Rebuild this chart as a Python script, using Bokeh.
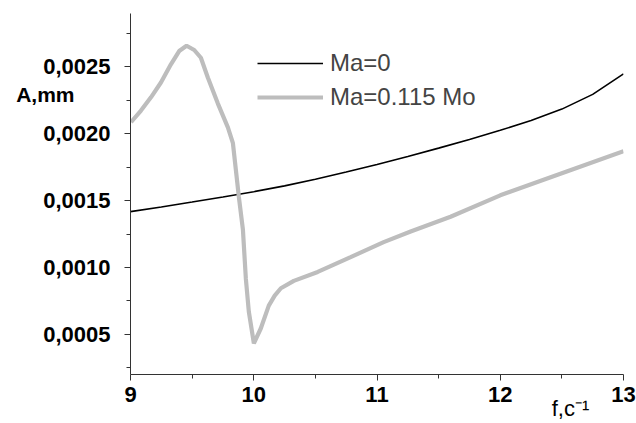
from bokeh.plotting import figure
from bokeh.models import Range1d, FixedTicker, CustomJSTickFormatter, Legend, LegendItem, LinearAxis
from bokeh.embed import file_html
from bokeh.resources import INLINE

# Data
f_black = [9.0, 9.25, 9.5, 9.75, 10.0, 10.25, 10.5, 10.75, 11.0, 11.25, 11.5, 11.75,
           12.0, 12.25, 12.5, 12.75, 13.0]
a_black = [0.001418, 0.001453, 0.00149, 0.001528, 0.001567, 0.001611, 0.00166, 0.001714,
           0.00177, 0.00183, 0.001893, 0.001958, 0.002026, 0.0021, 0.002185, 0.002295, 0.002448]

f_gray = [9.004, 9.085, 9.166, 9.247, 9.328, 9.395, 9.455, 9.517, 9.571, 9.628, 9.709, 9.790,
          9.831, 9.855, 9.879, 9.912, 9.936, 9.960, 10.001, 10.057, 10.122, 10.17, 10.22, 10.325,
          10.519, 10.786, 11.054, 11.273, 11.597, 12.0, 12.545, 13.0]
a_gray = [0.002087, 0.002174, 0.002273, 0.002384, 0.00252, 0.002619, 0.002659, 0.002627, 0.002569,
          0.002419, 0.002226, 0.002048, 0.00193, 0.00173, 0.00153, 0.001285, 0.000915, 0.00067,
          0.000433, 0.000544, 0.000715, 0.00079, 0.000845, 0.0009, 0.000967, 0.001078, 0.00119,
          0.00127, 0.00138, 0.00154, 0.00172, 0.00187]

x_ticks = [9, 10, 11, 12, 13]
x_minor = [9.5, 10.5, 11.5, 12.5]
y_ticks = [0.0005, 0.0010, 0.0015, 0.0020, 0.0025]
y_minor = [0.00025, 0.00075, 0.00125, 0.00175, 0.00225, 0.00275]
series_labels = ["Ma=0", "Ma=0.115 Mo"]
y_title = "A,mm"
x_title = "f,c\u207b\u00b9"

FONT = "Liberation Sans"

p = figure(width=636, height=423, output_backend="svg", toolbar_location=None,
           x_range=Range1d(9, 13), y_range=Range1d(0.0002, 0.0029),
           min_border_left=130, min_border_right=13, min_border_top=13, min_border_bottom=47)
p.outline_line_color = None
p.xgrid.visible = False
p.ygrid.visible = False
p.background_fill_color = "white"
p.border_fill_color = "white"

r1 = p.line(f_black, a_black, line_color="black", line_width=1.6)
r2 = p.line(f_gray, a_gray, line_color="#bdbdbd", line_width=4.2)

for ax in (p.xaxis[0], p.yaxis[0]):
    ax.axis_line_color = "#333333"
    ax.major_tick_line_color = "#333333"
    ax.minor_tick_line_color = "#333333"
    ax.major_tick_in = 0
    ax.major_tick_out = 6
    ax.minor_tick_in = 0
    ax.minor_tick_out = 4
    ax.major_label_text_font = FONT
    ax.major_label_text_font_style = "bold"
    ax.major_label_text_font_size = "22px"
    ax.major_label_text_color = "black"

p.xaxis[0].ticker = FixedTicker(ticks=x_ticks, minor_ticks=x_minor)
p.yaxis[0].ticker = FixedTicker(ticks=y_ticks, minor_ticks=y_minor)
p.yaxis[0].formatter = CustomJSTickFormatter(code="return tick.toFixed(4).replace('.', ',');")
p.xaxis[0].major_label_standoff = 6
p.yaxis[0].major_label_standoff = 14

# axis titles placed as single tick labels of extra, line-less axes
y_title_axis = LinearAxis(ticker=FixedTicker(ticks=[0.002295]),
                          formatter=CustomJSTickFormatter(code="return %r;" % y_title),
                          axis_line_color=None, major_tick_line_color=None, minor_tick_line_color=None,
                          major_tick_in=0, major_tick_out=0, major_label_standoff=-34,
                          major_label_text_font=FONT, major_label_text_font_style="bold",
                          major_label_text_font_size="21px", major_label_text_color="black")
p.add_layout(y_title_axis, "left")

x_title_axis = LinearAxis(ticker=FixedTicker(ticks=[12.57]),
                          formatter=CustomJSTickFormatter(code="return %r;" % x_title),
                          axis_line_color=None, major_tick_line_color=None, minor_tick_line_color=None,
                          major_tick_in=0, major_tick_out=0, major_label_standoff=-9,
                          major_label_text_font=FONT, major_label_text_font_style="normal",
                          major_label_text_font_size="22px", major_label_text_color="black")
p.add_layout(x_title_axis, "below")

legend = Legend(items=[LegendItem(label=series_labels[0], renderers=[r1]),
                       LegendItem(label=series_labels[1], renderers=[r2])],
                location=(127, 262), glyph_width=66, glyph_height=30, label_height=30,
                spacing=4, padding=0, margin=0, label_standoff=7,
                label_text_font=FONT, label_text_font_size="24px",
                border_line_color=None, background_fill_alpha=0)
p.add_layout(legend)

open("out.html", "w").write(file_html(p, INLINE))
